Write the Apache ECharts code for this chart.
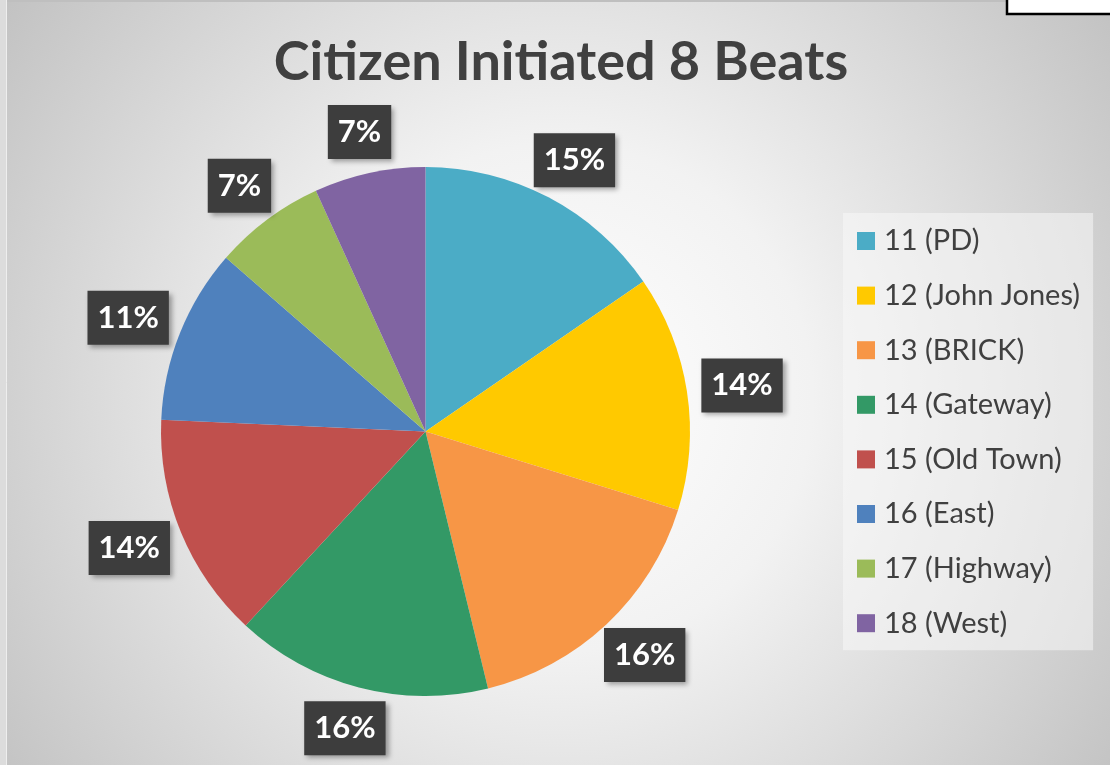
<!DOCTYPE html>
<html>
<head>
<meta charset="utf-8">
<script src="https://cdn.jsdelivr.net/npm/echarts@6/dist/echarts.min.js"></script>
<style>
  html, body { margin: 0; padding: 0; background: #dcdcdc; }
  #chart { position: absolute; left: 6px; top: 0; width: 1104px; height: 765px; }
</style>
</head>
<body>
<div id="chart"></div>
<script>
// Share of citizen-initiated calls by beat (percent)
const beats = ['11 (PD)', '12 (John Jones)', '13 (BRICK)', '14 (Gateway)',
               '15 (Old Town)', '16 (East)', '17 (Highway)', '18 (West)'];
const shares = [15.4, 14.4, 16.4, 15.7, 13.8, 10.7, 6.8, 6.8];
const sliceColors = ['#4BACC6', '#FFC900', '#F79646', '#339966',
                     '#C0504D', '#4F81BD', '#9BBB59', '#8064A2'];
const chartTitle = 'Citizen Initiated 8 Beats';

const el = document.getElementById('chart');
const chart = echarts.init(el);

const W = el.clientWidth, H = el.clientHeight;
const cx = 419.5, cy = 431.5, R = 264.5;
// labels sit just beyond the rim, pushed outward by half their own box
const anchorDist = R + 15;

// mid-angle of each slice, clockwise from 12 o'clock
const total = shares.reduce((a, b) => a + b, 0);
const midAngles = [];
let acc = 0;
shares.forEach(v => {
  midAngles.push(((acc + v / 2) / total) * 2 * Math.PI);
  acc += v;
});

chart.setOption({
  backgroundColor: {
    type: 'radial', x: 0.5, y: 0.52, r: 0.95,
    colorStops: [
      { offset: 0, color: '#ffffff' },
      { offset: 0.35, color: '#f2f2f2' },
      { offset: 1, color: '#bdbdbd' }
    ]
  },
  title: {
    text: chartTitle,
    left: 550, top: 31, textAlign: 'center',
    textStyle: { fontFamily: 'Lato', fontWeight: 'bold', fontSize: 54, color: '#404040' }
  },
  legend: {
    orient: 'vertical',
    left: 837, top: 213,
    padding: [12, 13, 11, 14],
    backgroundColor: 'rgba(248,248,248,0.55)',
    itemWidth: 18, itemHeight: 18, itemGap: 22.6,
    icon: 'rect',
    textStyle: { fontFamily: 'Lato', fontSize: 29, color: '#404040', lineHeight: 32, padding: [0, 0, 0, 4] },
    data: beats
  },
  series: [{
    type: 'pie',
    center: [cx, cy],
    radius: R,
    startAngle: 90,
    clockwise: true,
    avoidLabelOverlap: false,
    animation: false,
    color: sliceColors,
    data: beats.map((b, i) => ({ name: b, value: shares[i] })),
    label: {
      show: true,
      position: 'outside',
      formatter: p => Math.round(p.percent) + '%',
      fontFamily: 'Lato', fontWeight: 'bold', fontSize: 31, color: '#ffffff',
      backgroundColor: '#3d3d3d',
      padding: [12, 10, 11, 10],
      shadowColor: 'rgba(0,0,0,0.35)', shadowBlur: 5, shadowOffsetX: 3, shadowOffsetY: 3
    },
    labelLine: { show: false },
    labelLayout: function (params) {
      const a = midAngles[params.dataIndex];
      const hw = params.labelRect.width / 2, hh = params.labelRect.height / 2;
      const s = Math.sin(a), c = Math.cos(a);
      return {
        x: cx + anchorDist * s + hw * s,
        y: cy - anchorDist * c - hh * c,
        align: 'center',
        verticalAlign: 'middle'
      };
    }
  }],
  graphic: [
    { type: 'line', shape: { x1: 0, y1: 1, x2: W, y2: 1 }, style: { stroke: '#bfbfbf', lineWidth: 2 } },
    { type: 'line', shape: { x1: 0.5, y1: 0, x2: 0.5, y2: H }, style: { stroke: '#eeeeee', lineWidth: 1 } },
    { type: 'rect', shape: { x: 1001, y: -3, width: 110, height: 17 },
      style: { fill: '#ffffff', stroke: '#000000', lineWidth: 2.5 } }
  ]
});
</script>
</body>
</html>
